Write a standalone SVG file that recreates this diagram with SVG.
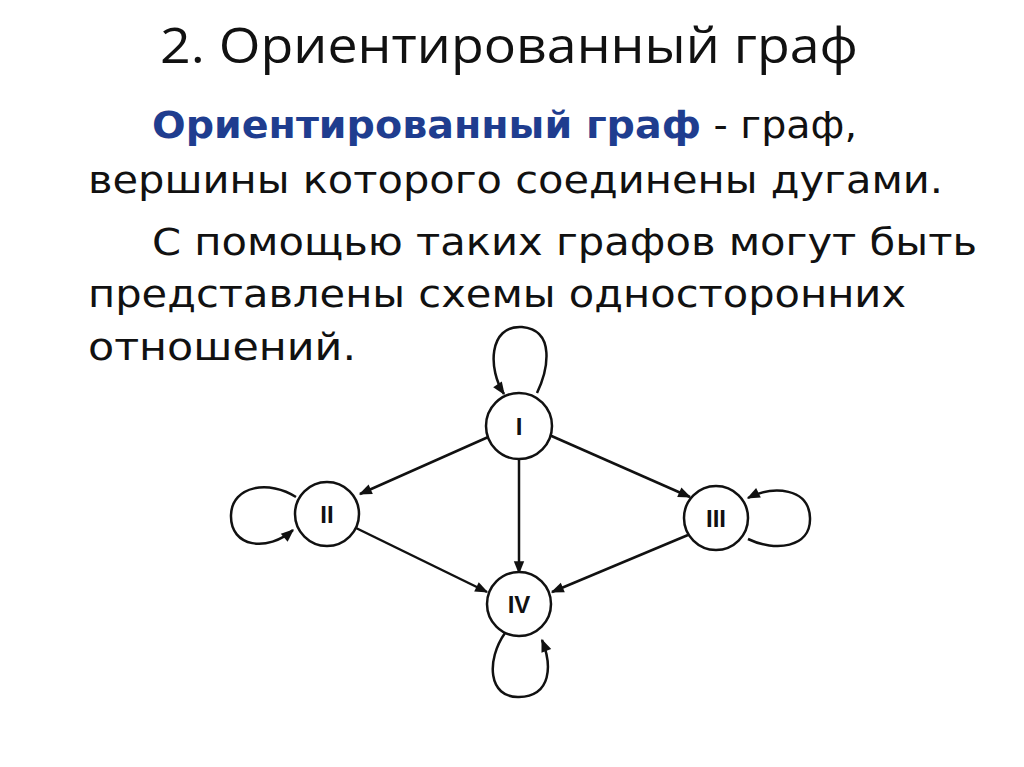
<svg xmlns="http://www.w3.org/2000/svg" width="1024" height="767" viewBox="0 0 1024 767">
<style>
.t{font-family:"DejaVu Sans",Verdana,sans-serif;font-size:38px;fill:#111}
.b{font-weight:bold;fill:#1f3d8f}
.h{font-family:"Open Sans","Liberation Sans",sans-serif;font-size:50px;fill:#111}
.n circle{fill:#fff;stroke:#111;stroke-width:2.5}
.n text{font-family:"Liberation Sans",Arial,sans-serif;font-weight:bold;font-size:24px;text-anchor:middle;fill:#111}
.c path{fill:none;stroke:#111;stroke-width:2.5;marker-end:url(#m)}
</style>
<defs>
<marker id="m" viewBox="0 0 10 10" refX="9" refY="5" markerWidth="18" markerHeight="13" markerUnits="userSpaceOnUse" orient="auto"><path d="M0,1L10,5L0,9z" fill="#111"/></marker></defs>
<rect width="1024" height="767" fill="#fff"/>
<text class="h" x="160" y="63" textLength="698" lengthAdjust="spacingAndGlyphs">2. Ориентированный граф</text>
<text class="t" x="152" y="138" textLength="705" lengthAdjust="spacingAndGlyphs"><tspan class="b">Ориентированный граф</tspan> - граф,</text>
<text class="t" x="88" y="193" textLength="855" lengthAdjust="spacingAndGlyphs">вершины которого соединены дугами.</text>
<text class="t" x="152" y="255" textLength="825" lengthAdjust="spacingAndGlyphs">С помощью таких графов могут быть</text>
<text class="t" x="88" y="307" textLength="818" lengthAdjust="spacingAndGlyphs">представлены схемы односторонних</text>
<text class="t" x="88" y="360" textLength="268" lengthAdjust="spacingAndGlyphs">отношений.</text>
<g class="c" id="connectors">
<path d="M495,434 L360,494"/>
<path d="M547,434 L690,497"/>
<path d="M519,458 L519,573"/>
<path d="M356,528 L487,592"/>
<path d="M688,535 L552,592"/>
<path d="M537,393 C548,370 556,330 522,327 C488,325 488,370 504,394"/>
<path d="M296,497 C270,480 232,485 231,515 C230,548 268,552 293,530"/>
<path d="M748,539 C775,552 811,548 810,518 C809,488 774,485 748,498"/>
<path d="M505,633 C486,660 488,698 519,697 C552,696 552,665 542,640"/>
</g>
<g id="n1" class="n"><circle cx="519" cy="426" r="33"/><text x="519" y="435">I</text></g>
<g id="n2" class="n"><circle cx="327" cy="514" r="32"/><text x="327" y="523">II</text></g>
<g id="n3" class="n"><circle cx="716" cy="518" r="32"/><text x="716" y="527">III</text></g>
<g id="n4" class="n"><circle cx="519" cy="604" r="32"/><text x="519" y="613">IV</text></g>
</svg>
